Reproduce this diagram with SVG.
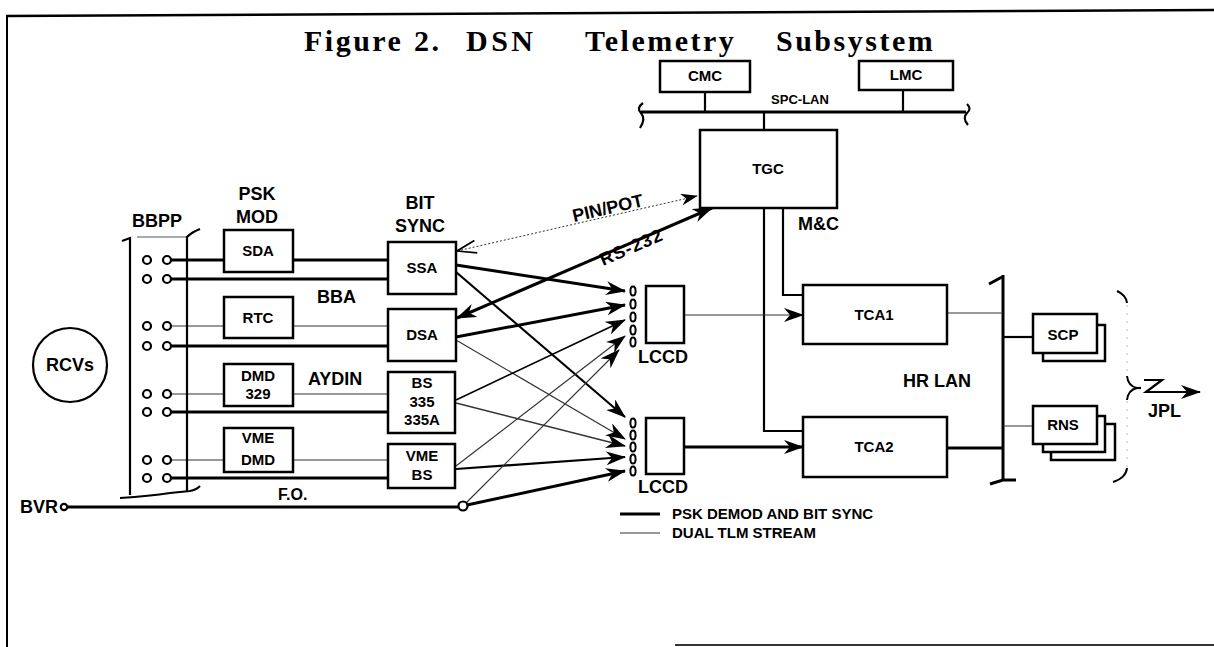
<svg xmlns="http://www.w3.org/2000/svg" width="1214" height="647" viewBox="0 0 1214 647">
<defs>
<style>
text { font-family: "Liberation Sans", Arial, Helvetica, sans-serif; font-weight: bold; fill: #000; }
.t18 { font-size: 18px; }
.t15 { font-size: 15px; text-anchor: middle; }
.mid { text-anchor: middle; }
.box { fill: #fff; stroke: #000; stroke-width: 2.5; }
.thk { fill: none; stroke: #000; stroke-width: 3; }
.med { fill: none; stroke: #000; stroke-width: 2.2; }
.thn { fill: none; stroke: #333; stroke-width: 1.2; }
.pin { fill: #fff; stroke: #000; stroke-width: 2.2; }
.ov { fill: #fff; stroke: #000; stroke-width: 2; }
.title { font-family: "Liberation Serif", "Times New Roman", serif; font-size: 30px; letter-spacing: 2.5px; }
</style>
<marker id="ah" markerUnits="userSpaceOnUse" viewBox="0 0 20 14" markerWidth="20" markerHeight="14" refX="19" refY="7" orient="auto-start-reverse">
<path d="M0,0 L20,7 L0,14 L6,7 Z" fill="#000"/>
</marker>
<marker id="as" markerUnits="userSpaceOnUse" viewBox="0 0 20 14" markerWidth="17" markerHeight="12" refX="19" refY="7" orient="auto-start-reverse">
<path d="M0,0 L20,7 L0,14 L6,7 Z" fill="#000"/>
</marker>
<marker id="ao" markerUnits="userSpaceOnUse" viewBox="0 0 20 14" markerWidth="22" markerHeight="15" refX="19" refY="7" orient="auto-start-reverse">
<path d="M1,1 L19,7 L1,13" fill="none" stroke="#000" stroke-width="1.6"/>
</marker>
</defs>
<rect x="0" y="0" width="1214" height="647" fill="#fff"/>

<g id="frame" fill="none" stroke="#000">
<path d="M6,16 L1214,10" stroke-width="2.5"/>
<path d="M7,16 V647" stroke-width="2"/>
<path d="M675,645 H1214" stroke-width="2" stroke="#333"/>
</g>

<text class="title" y="51"><tspan x="304">Figure</tspan><tspan x="414">2.</tspan><tspan x="466" style="letter-spacing:3.5px">DSN</tspan><tspan x="585">Telemetry</tspan><tspan x="776">Subsystem</tspan></text>

<g id="connectors">
<!-- SPC-LAN -->
<path class="thk" d="M641,112 H966"/>
<path class="med" d="M643,103 Q636,108 641,113 Q646,119 640,128"/>
<path class="med" d="M967,104 Q972,109 967,113 Q962,118 968,125"/>
<path class="med" d="M705,92 V112 M903,90 V112 M764,112 V130"/>
<text x="800" y="104" class="mid" style="font-size:13px">SPC-LAN</text>
<!-- BBPP rows -->
<path class="thk" d="M171,260 H224 M293,260 H388 M171,279 H388 M171,346 H388 M171,412 H388 M171,478 H388"/>
<path class="thn" d="M171,326 H224 M293,326 H388 M171,394 H224 M293,394 H388 M171,460 H224 M293,460 H388"/>
<!-- BVR fibre -->
<path class="thk" d="M67,507 H458"/>
<!-- bit sync to LCCD -->
<path class="thk" d="M456,265 L625,291" marker-end="url(#ah)"/>
<path class="thk" d="M456,337 L625,305" marker-end="url(#ah)"/>
<path class="med" d="M456,272 L625,417" marker-end="url(#ah)"/>
<path class="thn" d="M456,340 L625,439" marker-end="url(#ah)"/>
<path class="med" d="M456,400 L625,320" marker-end="url(#ah)" style="stroke-width:1.6"/>
<path class="thn" d="M456,403 L625,446" marker-end="url(#ah)" style="stroke-width:1.5"/>
<path class="thn" d="M456,466 L625,336" marker-end="url(#ah)"/>
<path class="med" d="M456,469 L625,457" marker-end="url(#ah)"/>
<path class="thn" d="M466,503 L619,350" marker-end="url(#ah)"/>
<path class="thk" d="M467,505 L625,471" marker-end="url(#ah)"/>
<!-- RS-232 and PIN/POT -->
<path class="thk" d="M457,318 L712,208" marker-start="url(#ah)" marker-end="url(#ah)"/>
<path d="M457,251 L697,196" fill="none" stroke="#333" stroke-width="1" stroke-dasharray="2,2" marker-start="url(#ao)" marker-end="url(#as)"/>
<text class="t18" transform="translate(574,222) rotate(-12.9)">PIN/POT</text>
<text class="t18" transform="translate(603,266) rotate(-23.3)" style="letter-spacing:1px">RS-232</text>
<!-- TGC to TCAs -->
<path class="med" d="M783,208 V295 H803"/>
<path class="med" d="M764,208 V431 H803"/>
<text class="t18" x="798" y="230">M&amp;C</text>
<!-- LCCD to TCA -->
<path class="thn" d="M684,315 H803" marker-end="url(#ah)"/>
<path class="thk" d="M684,447 H803" marker-end="url(#ah)"/>
<!-- HR LAN -->
<path class="thk" d="M1003,275 V481"/>
<path class="thk" d="M1002,277 L989,284 M990,484 L1003,480 H1016"/>
<path class="thn" d="M947,313 H1003 M1003,426 H1033"/>
<path class="thk" d="M947,448 H1003"/>
<path class="med" d="M1003,337 H1033"/>
<text class="t18" x="903" y="387">HR LAN</text>
<!-- JPL brace and arrow -->
<path d="M1127,305 V375 M1127,401 V468" fill="none" stroke="#bbb" stroke-width="1" stroke-dasharray="2,6"/>
<path d="M1117,291 Q1126,295 1127,303 M1127,376 Q1128,386 1137,388 Q1128,390 1127,400 M1127,468 Q1126,478 1113,482" fill="none" stroke="#000" stroke-width="2"/>
<path class="med" d="M1137,388 H1141"/>
<path class="med" d="M1144,380 H1162 L1146,392 H1200" marker-end="url(#ah)"/>
<text class="t18" x="1148" y="417">JPL</text>
</g>

<g id="rcvs">
<circle cx="70" cy="365" r="37" fill="#fff" stroke="#000" stroke-width="2.2"/>
<text class="t18 mid" x="70" y="371">RCVs</text>
</g>

<g id="bbpp">
<text class="t18 mid" x="157" y="227">BBPP</text>
<path d="M122,241 L130,238 V495" fill="none" stroke="#000" stroke-width="2.2"/>
<path d="M137,237 H187" fill="none" stroke="#555" stroke-width="1"/>
<path d="M187,492 V237 Q192,232 200,229" fill="none" stroke="#000" stroke-width="2.2"/>
<path d="M120,498 Q150,496 170,493 L190,491 Q196,490 200,486" fill="none" stroke="#000" stroke-width="2"/>
<g class="pin">
<circle cx="147" cy="260" r="4"/><circle cx="167" cy="260" r="4"/>
<circle cx="147" cy="279" r="4"/><circle cx="167" cy="279" r="4"/>
<circle cx="147" cy="326" r="4"/><circle cx="167" cy="326" r="4"/>
<circle cx="147" cy="346" r="4"/><circle cx="167" cy="346" r="4"/>
<circle cx="147" cy="394" r="4"/><circle cx="167" cy="394" r="4"/>
<circle cx="147" cy="412" r="4"/><circle cx="167" cy="412" r="4"/>
<circle cx="147" cy="460" r="4"/><circle cx="167" cy="460" r="4"/>
<circle cx="147" cy="478" r="4"/><circle cx="167" cy="478" r="4"/>
</g>
</g>

<g id="bvr">
<text class="t18" x="20" y="513">BVR</text>
<circle class="pin" cx="64" cy="507" r="3.2" stroke-width="1.8"/>
<text class="t18" x="278" y="500" style="font-size:16px">F.O.</text>
<circle class="pin" cx="463" cy="506" r="4.5"/>
</g>

<g id="psk-mod">
<text class="t18 mid" x="257" y="200">PSK</text>
<text class="t18 mid" x="257" y="223">MOD</text>
</g>
<g id="sda"><rect class="box" x="224" y="230" width="69" height="42"/><text class="t15" x="258" y="256">SDA</text></g>
<g id="rtc"><rect class="box" x="224" y="297" width="69" height="41"/><text class="t15" x="258" y="323">RTC</text></g>
<g id="dmd329"><rect class="box" x="224" y="364" width="69" height="42"/><text class="t15" x="258" y="381">DMD</text><text class="t15" x="258" y="399">329</text></g>
<g id="vmedmd"><rect class="box" x="224" y="428" width="69" height="44"/><text class="t15" x="258" y="443">VME</text><text class="t15" x="258" y="465">DMD</text></g>
<text class="t18" x="317" y="303">BBA</text>
<text class="t18" x="308" y="385">AYDIN</text>

<g id="bit-sync">
<text class="t18 mid" x="420" y="209">BIT</text>
<text class="t18 mid" x="420" y="232">SYNC</text>
</g>
<g id="ssa"><rect class="box" x="388" y="242" width="68" height="52"/><text class="t15" x="422" y="273">SSA</text></g>
<g id="dsa"><rect class="box" x="388" y="309" width="68" height="52"/><text class="t15" x="422" y="340">DSA</text></g>
<g id="bs335"><rect class="box" x="388" y="372" width="67" height="61"/><text class="t15" x="422" y="388">BS</text><text class="t15" x="422" y="407">335</text><text class="t15" x="422" y="425">335A</text></g>
<g id="vmebs"><rect class="box" x="388" y="444" width="67" height="44"/><text class="t15" x="422" y="461">VME</text><text class="t15" x="422" y="480">BS</text></g>

<g id="lccd1">
<rect class="box" x="646" y="286" width="38" height="57"/>
<g class="ov"><ellipse cx="633" cy="291" rx="2.6" ry="4.6"/><ellipse cx="633" cy="304" rx="2.6" ry="4.6"/><ellipse cx="633" cy="317" rx="2.6" ry="4.6"/><ellipse cx="633" cy="330" rx="2.6" ry="4.6"/><ellipse cx="633" cy="342" rx="2.6" ry="4.6"/></g>
<text class="t18" x="638" y="363">LCCD</text>
</g>
<g id="lccd2">
<rect class="box" x="646" y="418" width="38" height="56"/>
<g class="ov"><ellipse cx="633" cy="423" rx="2.6" ry="4.6"/><ellipse cx="633" cy="435" rx="2.6" ry="4.6"/><ellipse cx="633" cy="447" rx="2.6" ry="4.6"/><ellipse cx="633" cy="459" rx="2.6" ry="4.6"/><ellipse cx="633" cy="471" rx="2.6" ry="4.6"/></g>
<text class="t18" x="638" y="493">LCCD</text>
</g>

<g id="cmc"><rect class="box" x="660" y="61" width="90" height="31"/><text class="t15" x="705" y="81">CMC</text></g>
<g id="lmc"><rect class="box" x="859" y="61" width="94" height="29"/><text class="t15" x="906" y="80">LMC</text></g>
<g id="tgc"><rect class="box" x="700" y="130" width="137" height="78"/><text class="t15" x="768" y="174">TGC</text></g>
<g id="tca1"><rect class="box" x="803" y="285" width="144" height="59"/><text class="t15" x="874" y="320">TCA1</text></g>
<g id="tca2"><rect class="box" x="803" y="417" width="144" height="60"/><text class="t15" x="874" y="452">TCA2</text></g>

<g id="scp">
<rect class="box" x="1043" y="325" width="62" height="36"/>
<rect class="box" x="1033" y="314" width="64" height="39"/>
<text class="t15" x="1063" y="340">SCP</text>
</g>
<g id="rns">
<rect class="box" x="1051" y="424" width="64" height="36"/>
<rect class="box" x="1043" y="416" width="62" height="36"/>
<rect class="box" x="1033" y="406" width="64" height="38"/>
<text class="t15" x="1063" y="430">RNS</text>
</g>

<g id="legend">
<path class="thk" d="M620,514 H660"/>
<text x="672" y="519" style="font-size:15px">PSK DEMOD AND BIT SYNC</text>
<path class="thn" d="M620,533 H660"/>
<text x="672" y="538" style="font-size:15px">DUAL TLM STREAM</text>
</g>
</svg>
